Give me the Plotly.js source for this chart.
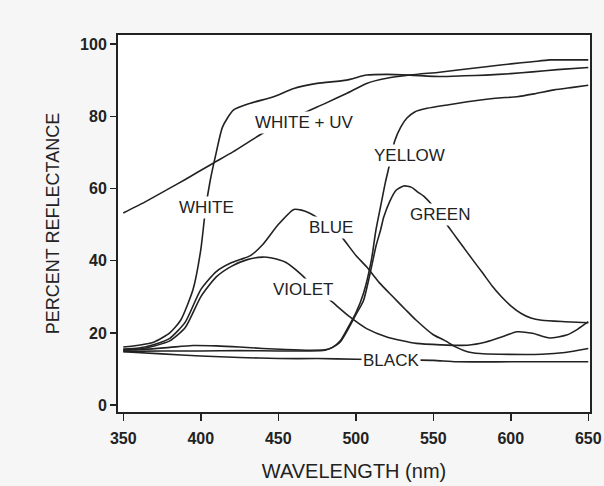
<!DOCTYPE html>
<html>
<head>
<meta charset="utf-8">
<script src="https://cdn.plot.ly/plotly-3.0.1.min.js"></script>
<style>html,body{margin:0;padding:0;background:#f6f6f6;}#chart{width:604px;height:486px;}</style>
</head>
<body>
<div id="chart"></div>
<script>
// Wavelength (nm) and percent reflectance
const whiteX = [350,360,370,380,387,395,400,403,406,410,414,421,432,447,460,475,494,507,520,535,554,570,584,600,614,630,650];
const whiteY = [16.1,16.6,17.5,20,23.5,32,43,54,62,70,77,81.7,83.6,85.4,87.7,89.1,90,91.4,91.6,91.4,91,91.2,91.4,91.8,92.3,92.9,93.5];

const whiteUvX = [350,365,378,390,408,421,440,453,466,480,494,507,520,535,554,570,584,600,614,625,640,650];
const whiteUvY = [53.2,56.5,59.6,62.5,67,70.2,75.3,78,80.8,83.5,86.3,89.1,90.5,91.4,92.2,93,93.7,94.5,95.1,95.6,95.6,95.6];

const blueX = [350,360,370,380,390,400,410,420,426,432,440,450,460,465,470,480,490,500,507,515,524,532,539,550,557,565,572,580,593,620,635,650];
const blueY = [15.5,15.8,16.8,18.5,23,32,37,39.5,40.4,41.4,44.5,50,54.2,54,53.2,50.5,47,41.5,38.3,34,30,26.5,23.5,19.5,18,16,14.8,14.3,14.1,14.1,14.6,15.7];

const violetX = [350,360,370,380,390,400,410,420,430,440,445,455,464,470,478,485,496,507,520,539,555,572,584,595,604,614,625,636,643,650];
const violetY = [15.2,15.5,16.4,17.8,21.5,30,35.5,38.5,40.3,41,40.8,39.5,36.5,34,31,28.5,24.5,21.2,18.9,17.1,16.7,16.6,17.5,19,20.3,19.9,18.6,19.4,21,23.1];

const yellowX = [350,375,400,425,450,470,480,485,490,495,500,505,510,513,516,519,522,525,529,533,538,546,560,572,590,604,615,628,640,650];
const yellowY = [14.9,15,15,15.1,15,15,15.2,16,17.8,21.5,25.5,31,40,48.5,55,61.5,67,73,77,79.5,81.2,82.2,83.2,84,85,85.4,86.2,87.3,88,88.6];

const greenX = [350,365,380,395,410,425,440,455,470,480,485,490,495,500,505,510,513,516,518,522,526,531,536,540,544,550,557,563,569,575,582,588,594,600,607,613,620,635,650];
const greenY = [15.3,15.5,16,16.5,16.4,16.1,15.7,15.4,15.2,15.3,16,17.5,21,25,29,38,44,48.5,52,56.5,59.5,60.7,60.3,59,57.8,55,51,47.5,44,40.5,36.5,33,30,27.5,25.3,24.1,23.5,23.1,22.8];

const blackX = [350,375,400,425,450,475,500,525,550,565,600,650];
const blackY = [14.8,14.2,13.6,13.2,12.9,12.9,12.7,12.6,12.4,12.0,12.0,12.0];

const labelText = ["WHITE + UV","WHITE","BLUE","YELLOW","GREEN","VIOLET","BLACK"];
const labelX = [466.6,403.5,483.9,534.8,554.3,465.8,522.4];
const labelY = [78.2,54.8,49.3,69.1,52.9,32.1,12.3];

const xTicks = [350,400,450,500,550,600,650];
const yTicks = [0,20,40,60,80,100];

const ink = '#222222';
const fam = 'Liberation Sans, Arial, sans-serif';
const series = [[whiteX,whiteY],[whiteUvX,whiteUvY],[blueX,blueY],[violetX,violetY],[yellowX,yellowY],[greenX,greenY],[blackX,blackY]];
const traces = series.map(s => ({
  x: s[0], y: s[1], type: 'scatter', mode: 'lines',
  line: {color: ink, width: 1.6, shape: 'spline', smoothing: 0.6},
  hoverinfo: 'skip', showlegend: false
}));

const annotations = labelText.map((t,i) => ({
  x: labelX[i], y: labelY[i], xref: 'x', yref: 'y', text: t, showarrow: false,
  font: {family: fam, size: 17, color: ink},
  bgcolor: '#ffffff', borderpad: 1
}));

const layout = {
  width: 604, height: 486,
  margin: {l: 118, r: 14, t: 35, b: 74},
  paper_bgcolor: '#f6f6f6', plot_bgcolor: '#ffffff',
  showlegend: false,
  xaxis: {
    range: [346.6, 651.1], tickvals: xTicks, ticktext: xTicks.map(String),
    ticks: 'outside', ticklen: 7, tickwidth: 1.5, tickcolor: ink, ticklabelstandoff: 4,
    showline: true, mirror: true, linecolor: ink, linewidth: 2,
    showgrid: false, zeroline: false,
    tickfont: {family: fam, size: 16, color: ink, weight: 'bold'},
    title: {text: 'WAVELENGTH (nm)', font: {family: fam, size: 20, color: ink}, standoff: 18}
  },
  yaxis: {
    range: [-1.9, 102.5], tickvals: yTicks, ticktext: yTicks.map(String),
    ticks: 'outside', ticklen: 6, tickwidth: 1.5, tickcolor: ink,
    showline: true, mirror: true, linecolor: ink, linewidth: 2,
    showgrid: false, zeroline: false,
    tickfont: {family: fam, size: 16, color: ink, weight: 'bold'},
    title: {text: 'PERCENT REFLECTANCE', font: {family: fam, size: 18, color: ink}, standoff: 16}
  },
  annotations: annotations
};

Plotly.newPlot('chart', traces, layout, {displayModeBar: false, staticPlot: true});
</script>
</body>
</html>
